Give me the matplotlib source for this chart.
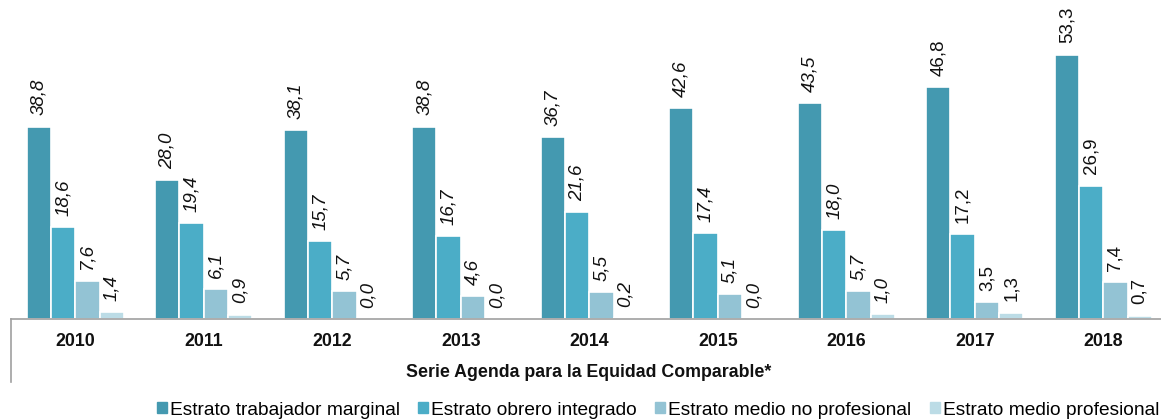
import numpy as np
import matplotlib.pyplot as plt
from matplotlib.lines import Line2D

plt.rcParams['font.family'] = ['Liberation Sans', 'DejaVu Sans']

years = ['2010', '2011', '2012', '2013', '2014', '2015', '2016', '2017', '2018']
series_names = ['Estrato trabajador marginal', 'Estrato obrero integrado',
                'Estrato medio no profesional', 'Estrato medio profesional']
marginal = [38.8, 28.0, 38.1, 38.8, 36.7, 42.6, 43.5, 46.8, 53.3]
obrero = [18.6, 19.4, 15.7, 16.7, 21.6, 17.4, 18.0, 17.2, 26.9]
medio_no_prof = [7.6, 6.1, 5.7, 4.6, 5.5, 5.1, 5.7, 3.5, 7.4]
medio_prof = [1.4, 0.9, 0.0, 0.0, 0.2, 0.0, 1.0, 1.3, 0.7]
italic_years = [True, True, True, True, True, True, True, False, False]

colors = ['#4499B0', '#4BADC7', '#93C3D4', '#BCDCE6']
xlabel = 'Serie Agenda para la Equidad Comparable*'

W, H = 1161, 419
fig = plt.figure(figsize=(W / 100, H / 100), dpi=100)
# plot area starts at x=11px and runs past the right edge (cropped like the original)
cat_w = 128.5
ax = fig.add_axes([11 / W, 100 / H, 9 * cat_w / W, 319 / H])

x = np.arange(len(years))
bw = 0.189
data = [marginal, obrero, medio_no_prof, medio_prof]
for i, vals in enumerate(data):
    pos = x + (i - 1.5) * bw
    ax.bar(pos, vals, width=bw, color=colors[i], edgecolor='white', linewidth=1.2)
    for px, v, it in zip(pos, vals, italic_years):
        ax.annotate(f'{v:.1f}'.replace('.', ','), (px, v), xytext=(0, 8),
                    textcoords='offset points', rotation=90, ha='center', va='bottom',
                    fontsize=13.5, style='italic' if it else 'normal', color='#111111')

ax.set_xlim(-0.5, len(years) - 0.5)
ax.set_ylim(0, 64.3)
ax.set_yticks([])
ax.set_xticks([])
for s in ['top', 'right', 'left']:
    ax.spines[s].set_visible(False)
ax.spines['bottom'].set_color('#A0A0A0')
ax.spines['bottom'].set_linewidth(1.2)

for xi, yr in zip(x, years):
    ax.text(xi, -0.07, yr, transform=ax.get_xaxis_transform(), ha='center', va='center',
            fontsize=12.8, fontweight='bold', color='#111111')

# left border of the category axis
fig.add_artist(Line2D([11 / W, 11 / W], [100 / H, 37 / H], color='#A0A0A0', lw=1.2))

fig.text(589 / W, 1 - 372 / H, xlabel, ha='center', va='center',
         fontsize=12.8, fontweight='bold', color='#111111')

handles = [plt.Rectangle((0, 0), 1, 1, color=c) for c in colors]
fig.legend(handles, series_names, loc='center left', bbox_to_anchor=(157 / W, 1 - 410 / H),
           ncol=4, frameon=False, fontsize=13.8, handlelength=0.52, handleheight=0.52,
           handletextpad=0.16, columnspacing=0.95, borderpad=0, borderaxespad=0)

fig.savefig('out.png', dpi=100)
